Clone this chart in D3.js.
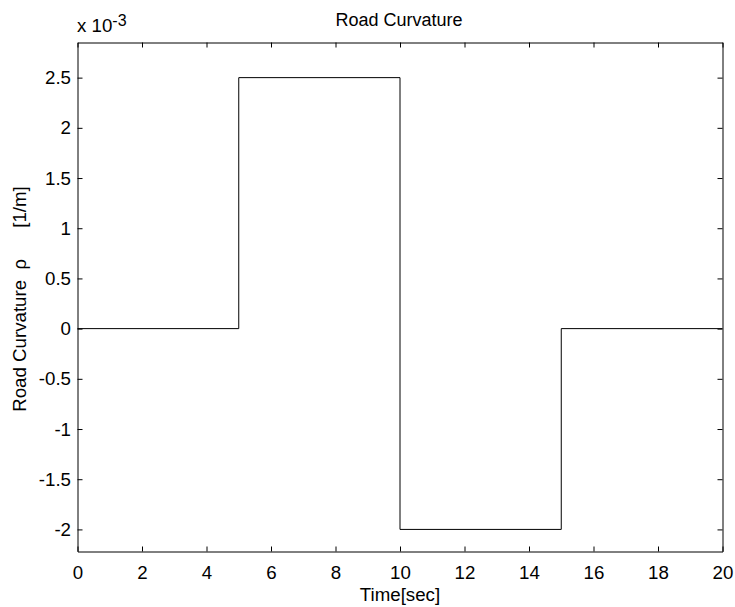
<!DOCTYPE html>
<html>
<head>
<meta charset="utf-8">
<script src="https://cdn.jsdelivr.net/npm/d3@7"></script>
<style>
  html, body { margin: 0; padding: 0; background: #fff; }
  svg { display: block; font-family: "Liberation Sans", Arial, sans-serif; }
</style>
</head>
<body>
<svg id="chart" width="735" height="607"></svg>
<script>
// Data (time in seconds, curvature in 1/m)
const timePoints = [0, 5, 5, 10, 10, 15, 15, 20];
const curvature = [0, 0, 0.0025, 0.0025, -0.002, -0.002, 0, 0];
const xTicks = [0, 2, 4, 6, 8, 10, 12, 14, 16, 18, 20];
const yTicks = [-2, -1.5, -1, -0.5, 0, 0.5, 1, 1.5, 2, 2.5]; // x 10^-3
const yTickLabels = ["-2", "-1.5", "-1", "-0.5", "0", "0.5", "1", "1.5", "2", "2.5"];
const titleText = "Road Curvature";
const xLabelText = "Time[sec]";
const yLabelText = "Road Curvature  ρ      [1/m]";

const svg = d3.select("#chart");
const L = 77.5, R = 722.5, T = 42.5, B = 551.5;

const x = d3.scaleLinear().domain([0, 20]).range([L, R]);
const y = d3.scaleLinear().domain([-2.22e-3, 2.85e-3]).range([B, T]);
const font = 18.7;
const tickLen = 5;

// Curve
const line = d3.line().x((d, i) => x(timePoints[i])).y((d) => y(d));
svg.append("path")
  .datum(curvature)
  .attr("d", line)
  .attr("fill", "none")
  .attr("stroke", "#000")
  .attr("stroke-width", 1);

// Axes (ticks inward)
const fmtX = d => String(d);
const bottomAxis = d3.axisBottom(x).tickValues(xTicks).tickSizeInner(-tickLen).tickSizeOuter(0).tickPadding(14.5).tickFormat(fmtX);
const topAxis = d3.axisTop(x).tickValues(xTicks).tickSizeInner(-tickLen).tickSizeOuter(0).tickFormat("");
const yTickVals = yTicks.map(v => v * 1e-3);
const leftAxis = d3.axisLeft(y).tickValues(yTickVals).tickSizeInner(-tickLen).tickSizeOuter(0).tickPadding(6.5)
  .tickFormat((d, i) => yTickLabels[i]);
const rightAxis = d3.axisRight(y).tickValues(yTickVals).tickSizeInner(-tickLen).tickSizeOuter(0).tickFormat("");

function style(g) {
  g.selectAll("path.domain").attr("stroke", "#000").attr("stroke-width", 1);
  g.selectAll(".tick line").attr("stroke", "#000").attr("stroke-width", 1);
  g.selectAll(".tick text").attr("fill", "#000").attr("font-size", font).attr("font-family", "Liberation Sans, Arial, sans-serif");
}
svg.append("g").attr("transform", `translate(0,${B})`).call(bottomAxis).call(style);
svg.append("g").attr("transform", `translate(0,${T})`).call(topAxis).call(style);
svg.append("g").attr("transform", `translate(${L},0)`).call(leftAxis).call(style);
svg.append("g").attr("transform", `translate(${R},0)`).call(rightAxis).call(style);

// Title
svg.append("text")
  .attr("x", (L + R) / 2 - 1).attr("y", 26)
  .attr("text-anchor", "middle")
  .attr("font-size", 18)
  .text(titleText);

// X label
svg.append("text")
  .attr("x", (L + R) / 2).attr("y", 601)
  .attr("text-anchor", "middle")
  .attr("font-size", font)
  .text(xLabelText);

// Y label
svg.append("text")
  .attr("transform", `translate(26,${(T + B) / 2 + 2}) rotate(-90)`)
  .attr("text-anchor", "middle")
  .attr("font-size", font)
  .style("white-space", "pre")
  .text(yLabelText);

// Exponent label
const ex = svg.append("text")
  .attr("x", 77).attr("y", 32)
  .attr("font-size", font);
ex.append("tspan").text("x 10");
ex.append("tspan").attr("dy", -6).attr("font-size", 16).text("-3");
</script>
</body>
</html>
